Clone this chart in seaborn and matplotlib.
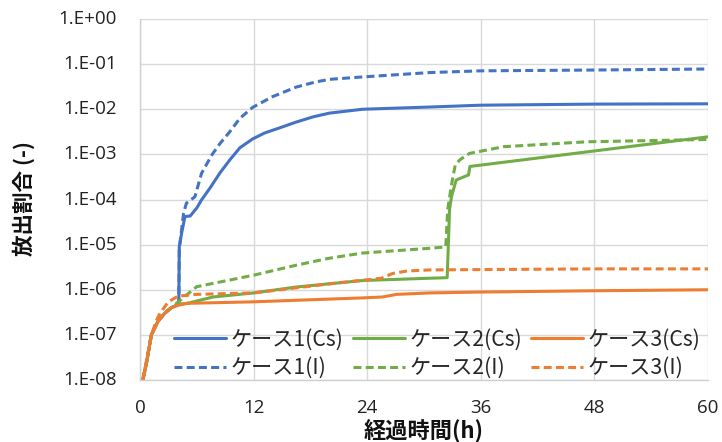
import numpy as np
import pandas as pd
import matplotlib
matplotlib.use("Agg")
import matplotlib.pyplot as plt
import matplotlib.transforms as mtransforms
import seaborn as sns

# ---- data (time in hours, release fraction) ----
t_c1_cs = [0.3, 0.7, 1.2, 1.9, 2.6, 3.3, 4.1, 4.15, 4.4, 4.75, 5.3, 6.0, 6.5, 7.4, 8.45,
           9.5, 10.55, 11.9, 13.2, 14.8, 16.5, 18.3, 20.0, 23.5, 30.6, 36, 48, 60]
v_c1_cs = [1.0e-8, 2.5e-8, 1.0e-7, 2.0e-7, 3.0e-7, 4.0e-7, 4.8e-7, 9.0e-6, 1.8e-5, 4.2e-5,
           4.3e-5, 6.5e-5, 9.8e-5, 1.8e-4, 3.9e-4, 7.6e-4, 1.4e-3, 2.2e-3, 3.0e-3, 3.9e-3,
           5.2e-3, 6.8e-3, 8.2e-3, 1.0e-2, 1.12e-2, 1.23e-2, 1.3e-2, 1.32e-2]

t_c1_i = [0.3, 0.7, 1.2, 1.9, 2.6, 3.3, 4.1, 4.15, 4.6, 4.9, 5.8, 6.5, 7.6, 8.45, 9.5,
          10.55, 11.9, 14.0, 16.5, 18.5, 20.0, 23.5, 30.6, 36, 48, 60]
v_c1_i = [1.0e-8, 2.5e-8, 1.0e-7, 2.0e-7, 3.0e-7, 4.0e-7, 5.2e-7, 8.0e-6, 4.9e-5, 8.3e-5,
          1.15e-4, 3.8e-4, 9.8e-4, 1.74e-3, 3.2e-3, 6.3e-3, 1.1e-2, 1.9e-2, 3.1e-2, 4.0e-2,
          4.6e-2, 5.2e-2, 6.5e-2, 7.1e-2, 7.4e-2, 7.8e-2]

t_c2_cs = [0.3, 0.7, 1.2, 1.9, 2.6, 3.3, 4.15, 5.0, 7.7, 12.0, 16.5, 23.5, 30.6, 32.45,
           32.7, 32.9, 33.4, 34.7, 34.85, 60]
v_c2_cs = [1.0e-8, 2.5e-8, 1.0e-7, 2.0e-7, 3.0e-7, 4.0e-7, 4.8e-7, 5.0e-7, 6.9e-7, 8.5e-7,
           1.15e-6, 1.6e-6, 1.8e-6, 1.85e-6, 6.0e-5, 1.15e-4, 2.7e-4, 3.5e-4, 5.4e-4, 2.45e-3]

t_c2_i = [0.3, 0.7, 1.2, 1.9, 2.6, 3.3, 4.1, 4.9, 6.0, 12.0, 16.5, 20.0, 23.5, 30.6, 32.3,
          32.5, 32.9, 33.3, 33.8, 34.8, 38.4, 47.2, 60]
v_c2_i = [1.0e-8, 2.5e-8, 1.0e-7, 2.0e-7, 3.0e-7, 4.0e-7, 5.5e-7, 7.6e-7, 1.17e-6, 2.1e-6,
          3.5e-6, 5.0e-6, 6.5e-6, 8.3e-6, 8.9e-6, 5.9e-5, 2.1e-4, 5.8e-4, 7.6e-4, 1.05e-3,
          1.48e-3, 1.9e-3, 2.14e-3]

t_c3_cs = [0.3, 0.7, 1.2, 1.9, 2.6, 3.3, 4.15, 5.0, 12.0, 23.5, 25.6, 27.1, 30.6, 36, 48, 60]
v_c3_cs = [1.0e-8, 2.5e-8, 1.0e-7, 2.0e-7, 3.0e-7, 4.0e-7, 4.6e-7, 5.0e-7, 5.4e-7, 6.6e-7,
           6.9e-7, 7.9e-7, 8.5e-7, 8.9e-7, 9.5e-7, 1.0e-6]

t_c3_i = [0.3, 0.7, 1.2, 1.7, 2.1, 3.0, 4.0, 6.0, 12.0, 20.0, 25.5, 26.7, 28.2, 30.6, 36, 48, 60]
v_c3_i = [1.0e-8, 2.8e-8, 1.0e-7, 2.0e-7, 3.0e-7, 5.4e-7, 7.2e-7, 7.9e-7, 8.5e-7, 1.35e-6,
          1.8e-6, 2.3e-6, 2.6e-6, 2.75e-6, 2.8e-6, 2.9e-6, 2.9e-6]

series_labels = ["ケース1(Cs)", "ケース1(I)", "ケース2(Cs)", "ケース2(I)", "ケース3(Cs)", "ケース3(I)"]
x_ticks = [0, 12, 24, 36, 48, 60]
y_ticks = [1e-8, 1e-7, 1e-6, 1e-5, 1e-4, 1e-3, 1e-2, 1e-1, 1e0]
y_tick_labels = ["1.E-08", "1.E-07", "1.E-06", "1.E-05", "1.E-04", "1.E-03", "1.E-02", "1.E-01", "1.E+00"]
x_label = "経過時間(h)"
y_label = "放出割合 (-)"

series = [
    (t_c1_cs, v_c1_cs, "#4472C4", False),
    (t_c1_i, v_c1_i, "#4472C4", True),
    (t_c2_cs, v_c2_cs, "#70AD47", False),
    (t_c2_i, v_c2_i, "#70AD47", True),
    (t_c3_cs, v_c3_cs, "#ED7D31", False),
    (t_c3_i, v_c3_i, "#ED7D31", True),
]

sns.set_theme(style="white")
plt.rcParams["font.family"] = ["Open Sans", "Noto Sans CJK JP", "DejaVu Sans"]
plt.rcParams["xtick.major.size"] = 0
plt.rcParams["ytick.major.size"] = 0

fig = plt.figure(figsize=(7.22, 4.42), dpi=100)
ax = fig.add_axes([140 / 722, 1 - 380 / 442, 568 / 722, 361 / 442])

for (t, v, col, dashed), lab in zip(series, series_labels):
    df = pd.DataFrame({"t": t, "v": v})
    sns.lineplot(data=df, x="t", y="v", ax=ax, color=col, linewidth=2.2,
                 label=lab, sort=False, estimator=None)
    if dashed:
        ax.lines[-1].set_dashes((2.6, 1.4))

ax.set_yscale("log")
ax.set_xlim(0, 60)
ax.set_ylim(1e-8, 1e0)
ax.set_xticks(x_ticks)
ax.set_xticklabels([str(x) for x in x_ticks])
ax.set_yticks(y_ticks)
ax.yaxis.set_minor_locator(matplotlib.ticker.NullLocator())
ax.tick_params(axis="both", which="major", length=0, labelsize=13.5, colors="#222222")
ax.tick_params(axis="x", which="major", pad=14)
ax.tick_params(axis="y", which="major", labelleft=False)
ax.grid(True, color="#d9d9d9", linewidth=1.0)
for side in ["top", "right"]:
    ax.spines[side].set_visible(False)
for side in ["left", "bottom"]:
    ax.spines[side].set_color("#d0d0d0")
    ax.spines[side].set_linewidth(1.0)

# y tick labels, right-aligned 23 px left of the plot area
ylab_tr = mtransforms.blended_transform_factory(ax.transAxes, ax.transData) + \
    mtransforms.ScaledTranslation(-23 / 100, 0, fig.dpi_scale_trans)
for yv, txt in zip(y_ticks, y_tick_labels):
    ax.text(0, yv, txt, transform=ylab_tr, ha="right", va="center", fontsize=13.5,
            color="#222222", clip_on=False)

ax.set_xlabel("")
ax.set_ylabel("")
fig.text(424 / 722, 1 - 431 / 442, x_label, ha="center", va="center", fontsize=16,
         fontweight="bold", family=["Noto Sans CJK JP", "DejaVu Sans"], color="#111111")
fig.text(24 / 722, 1 - 199 / 442, y_label, ha="center", va="center", rotation=90,
         fontsize=15.5, fontweight="bold", family=["Noto Sans CJK JP", "DejaVu Sans"],
         color="#111111")

handles, labels = ax.get_legend_handles_labels()
ax.legend(handles, labels, ncol=3, loc="lower left", bbox_to_anchor=(0.06, 0.003),
          frameon=False, handlelength=2.45, handletextpad=0.22, columnspacing=0.45,
          labelspacing=0.3, borderpad=0.0, borderaxespad=0.0,
          prop={"family": ["Noto Sans CJK JP", "DejaVu Sans"], "size": 15.2})

fig.savefig("out.png", dpi=100)
